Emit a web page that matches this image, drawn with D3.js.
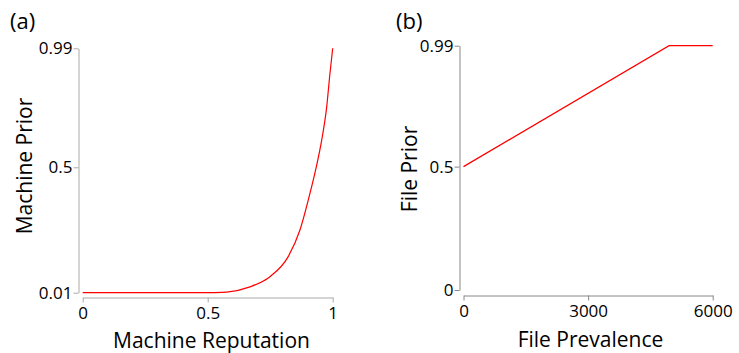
<!DOCTYPE html>
<html>
<head>
<meta charset="utf-8">
<script src="https://cdn.jsdelivr.net/npm/d3@7"></script>
<style>
  body { margin: 0; background: #fff; }
  svg { display: block; font-family: "Open Sans", "Noto Sans", sans-serif; }
</style>
</head>
<body>
<div id="chart"></div>
<script>
// (a) machine reputation -> machine prior
const machineRep = [0, 0.2, 0.469, 0.53, 0.576, 0.669, 0.749, 0.822, 0.869, 0.909, 0.933, 0.956, 0.976, 0.989, 1.0];
const machinePrior = [0.01, 0.01, 0.01, 0.0105, 0.0125, 0.033, 0.0725, 0.151, 0.255, 0.398, 0.496, 0.612, 0.749, 0.886, 0.99];
const machineXTicks = [0, 0.5, 1];
const machineYTicks = [0.01, 0.5, 0.99];

// (b) file prevalence -> file prior
const filePrev = [0, 4950, 6000];
const filePrior = [0.5, 0.99, 0.99];
const fileXTicks = [0, 3000, 6000];
const fileYTicks = [0, 0.5, 0.99];

const width = 739;
const height = 353;
const lineColor = "#ff0000";

const svg = d3.select("#chart")
  .append("svg")
  .attr("width", width)
  .attr("height", height);

renderPanel({
  tag: "(a)",
  tagX: 10,
  xs: machineRep,
  ys: machinePrior,
  xDomain: [0, 1],
  xRange: [82.7, 332.7],
  yDomain: [0.01, 0.5, 0.99],
  yRange: [292.7, 167.3, 48.3],
  xTicks: machineXTicks,
  yTicks: machineYTicks,
  xAxisY: 297.5,
  yAxisX: 78.5,
  xTitle: "Machine Reputation",
  yTitle: "Machine Prior",
  xTitleX: 211.5,
  xTitleY: 348,
  yTitleX: 32,
  yTitleCy: 166,
  axisColor: "#aaa",
  curve: d3.curveMonotoneX
});

renderPanel({
  tag: "(b)",
  tagX: 396,
  xs: filePrev,
  ys: filePrior,
  xDomain: [0, 6000],
  xRange: [463.5, 712.7],
  yDomain: [0, 0.99],
  yRange: [290, 45.7],
  xTicks: fileXTicks,
  yTicks: fileYTicks,
  xAxisY: 295.5,
  yAxisX: 459.5,
  xTitle: "File Prevalence",
  yTitle: "File Prior",
  xTitleX: 590.5,
  xTitleY: 346.5,
  yTitleX: 417,
  yTitleCy: 169,
  axisColor: "#888",
  curve: d3.curveLinear
});

function renderPanel(o) {
  const x = d3.scaleLinear().domain(o.xDomain).range(o.xRange);
  const y = d3.scaleLinear().domain(o.yDomain).range(o.yRange);
  const fmt = d => String(d);

  // x axis
  const gx = svg.append("g")
    .attr("transform", `translate(0,${o.xAxisY})`)
    .call(d3.axisBottom(x).tickValues(o.xTicks).tickFormat(fmt).tickSize(5).tickSizeOuter(0).tickPadding(4));

  // y axis
  const gy = svg.append("g")
    .attr("transform", `translate(${o.yAxisX},0)`)
    .call(d3.axisLeft(y).tickValues(o.yTicks).tickFormat(fmt).tickSize(5).tickSizeOuter(0).tickPadding(1));

  [gx, gy].forEach(g => {
    g.select(".domain").attr("stroke", o.axisColor);
    g.selectAll(".tick line").attr("stroke", o.axisColor);
    g.selectAll(".tick text")
      .attr("fill", "#000")
      .attr("font-size", 17)
      .attr("font-family", "Open Sans, sans-serif");
  });

  // line
  const line = d3.line()
    .x((d, i) => x(o.xs[i]))
    .y((d, i) => y(o.ys[i]))
    .curve(o.curve);

  svg.append("path")
    .datum(o.xs)
    .attr("d", line)
    .attr("fill", "none")
    .attr("stroke", lineColor)
    .attr("stroke-width", 1.2);

  // titles
  svg.append("text")
    .attr("x", o.xTitleX)
    .attr("y", o.xTitleY)
    .attr("text-anchor", "middle")
    .attr("font-size", 21)
    .text(o.xTitle);

  svg.append("text")
    .attr("transform", `translate(${o.yTitleX},${o.yTitleCy}) rotate(-90)`)
    .attr("text-anchor", "middle")
    .attr("font-size", 21)
    .text(o.yTitle);

  svg.append("text")
    .attr("x", o.tagX)
    .attr("y", 29)
    .attr("font-size", 22)
    .text(o.tag);
}
</script>
</body>
</html>
